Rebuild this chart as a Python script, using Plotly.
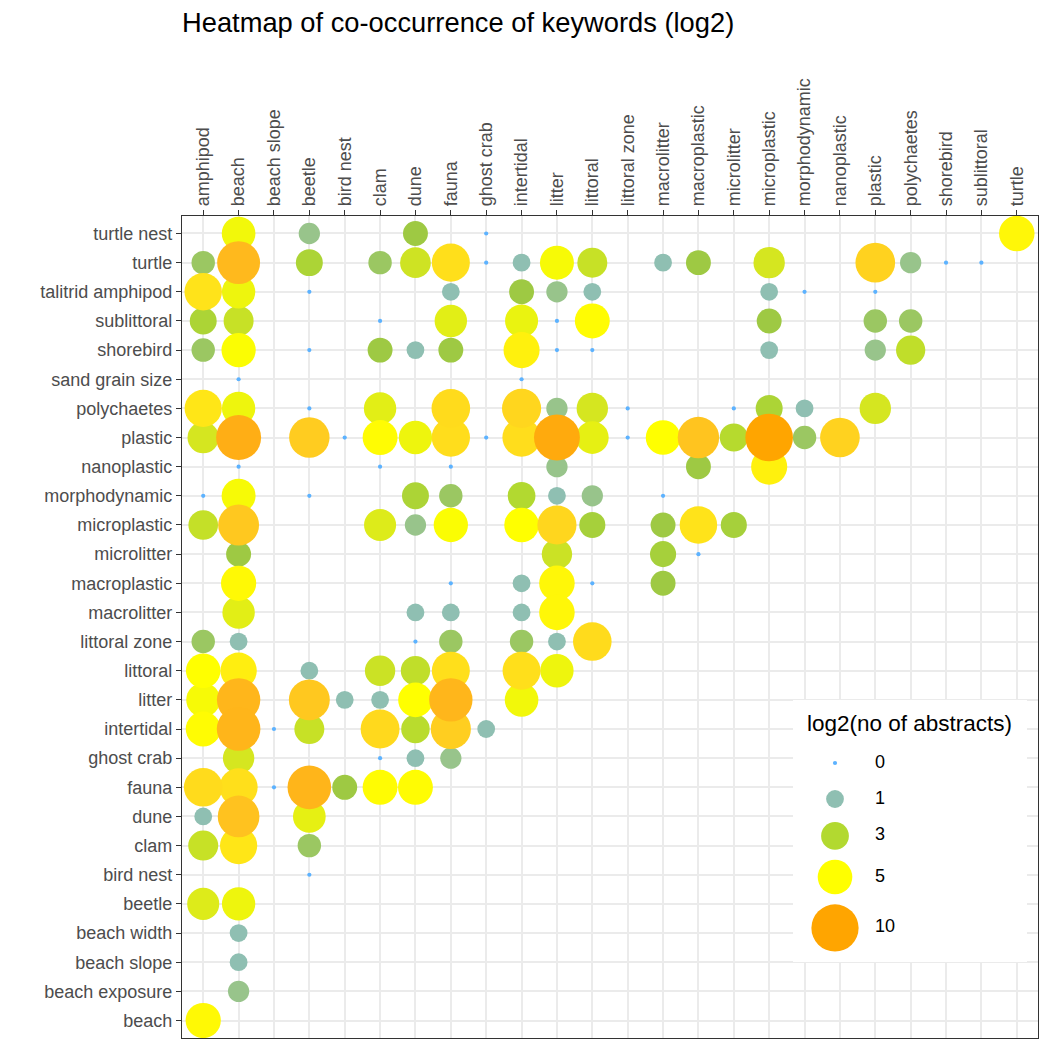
import numpy as np
import plotly.graph_objects as go

# ---------------- data ----------------
x_keywords = ["amphipod", "beach", "beach slope", "beetle", "bird nest", "clam", "dune",
              "fauna", "ghost crab", "intertidal", "litter", "littoral", "littoral zone",
              "macrolitter", "macroplastic", "microlitter", "microplastic", "morphodynamic",
              "nanoplastic", "plastic", "polychaetes", "shorebird", "sublittoral", "turtle"]

y_keywords = ["beach", "beach exposure", "beach slope", "beach width", "beetle", "bird nest",
              "clam", "dune", "fauna", "ghost crab", "intertidal", "litter", "littoral",
              "littoral zone", "macrolitter", "macroplastic", "microlitter", "microplastic",
              "morphodynamic", "nanoplastic", "plastic", "polychaetes", "sand grain size",
              "shorebird", "sublittoral", "talitrid amphipod", "turtle", "turtle nest"]

pair_row = (
    ["turtle nest"] * 5
    + ["turtle"] * 17
    + ["talitrid amphipod"] * 10
    + ["sublittoral"] * 10
    + ["shorebird"] * 12
    + ["sand grain size"] * 2
    + ["polychaetes"] * 13
    + ["plastic"] * 18
    + ["nanoplastic"] * 6
    + ["morphodynamic"] * 9
    + ["microplastic"] * 11
    + ["microlitter"] * 4
    + ["macroplastic"] * 6
    + ["macrolitter"] * 5
    + ["littoral zone"] * 7
    + ["littoral"] * 8
    + ["litter"] * 8
    + ["intertidal"] * 8
    + ["ghost crab"] * 4
    + ["fauna"] * 7
    + ["dune"] * 3
    + ["clam"] * 3
    + ["bird nest"] * 1
    + ["beetle"] * 2
    + ["beach width"] * 1
    + ["beach slope"] * 1
    + ["beach exposure"] * 1
    + ["beach"] * 1
)

pair_col = [
    # turtle nest
    "beach", "beetle", "dune", "ghost crab", "turtle",
    # turtle
    "amphipod", "beach", "beetle", "clam", "dune", "fauna", "ghost crab", "intertidal",
    "litter", "littoral", "macrolitter", "macroplastic", "microplastic", "plastic",
    "polychaetes", "shorebird", "sublittoral",
    # talitrid amphipod
    "amphipod", "beach", "beetle", "fauna", "intertidal", "litter", "littoral",
    "microplastic", "morphodynamic", "plastic",
    # sublittoral
    "amphipod", "beach", "clam", "fauna", "intertidal", "litter", "littoral",
    "microplastic", "plastic", "polychaetes",
    # shorebird
    "amphipod", "beach", "beetle", "clam", "dune", "fauna", "intertidal", "litter",
    "littoral", "microplastic", "plastic", "polychaetes",
    # sand grain size
    "beach", "intertidal",
    # polychaetes
    "amphipod", "beach", "beetle", "clam", "fauna", "intertidal", "litter", "littoral",
    "littoral zone", "microlitter", "microplastic", "morphodynamic", "plastic",
    # plastic
    "amphipod", "beach", "beetle", "bird nest", "clam", "dune", "fauna", "ghost crab",
    "intertidal", "litter", "littoral", "littoral zone", "macrolitter", "macroplastic",
    "microlitter", "microplastic", "morphodynamic", "nanoplastic",
    # nanoplastic
    "beach", "clam", "fauna", "litter", "macroplastic", "microplastic",
    # morphodynamic
    "amphipod", "beach", "beetle", "dune", "fauna", "intertidal", "litter", "littoral",
    "macrolitter",
    # microplastic
    "amphipod", "beach", "clam", "dune", "fauna", "intertidal", "litter", "littoral",
    "macrolitter", "macroplastic", "microlitter",
    # microlitter
    "beach", "litter", "macrolitter", "macroplastic",
    # macroplastic
    "beach", "fauna", "intertidal", "litter", "littoral", "macrolitter",
    # macrolitter
    "beach", "dune", "fauna", "intertidal", "litter",
    # littoral zone
    "amphipod", "beach", "dune", "fauna", "intertidal", "litter", "littoral",
    # littoral
    "amphipod", "beach", "beetle", "clam", "dune", "fauna", "intertidal", "litter",
    # litter
    "amphipod", "beach", "beetle", "bird nest", "clam", "dune", "fauna", "intertidal",
    # intertidal
    "amphipod", "beach", "beach slope", "beetle", "clam", "dune", "fauna", "ghost crab",
    # ghost crab
    "beach", "clam", "dune", "fauna",
    # fauna
    "amphipod", "beach", "beach slope", "beetle", "bird nest", "clam", "dune",
    # dune
    "amphipod", "beach", "beetle",
    # clam
    "amphipod", "beach", "beetle",
    # bird nest
    "beetle",
    # beetle
    "amphipod", "beach",
    # beach width / beach slope / beach exposure / beach
    "beach", "beach", "beach", "amphipod",
]

log2_abstracts = [
    # turtle nest
    4.7, 1.58, 2.32, 0, 5.3,
    # turtle
    2, 8.1, 2.8, 2, 3.8, 6.2, 0, 1, 4.8, 3.6, 1, 2.32, 4.0, 6.8, 1.58, 0, 0,
    # talitrid amphipod
    6.0, 4.6, 0, 1, 2.32, 1.58, 1, 1, 0, 0,
    # sublittoral
    2.8, 3.6, 0, 4.3, 4.5, 0, 5.1, 2.32, 2, 2,
    # shorebird
    2, 4.9, 0, 2.32, 1, 2.32, 5.5, 0, 0, 1, 1.58, 3.4,
    # sand grain size
    0, 0,
    # polychaetes
    5.9, 4.6, 0, 4.3, 6.4, 6.6, 1.58, 4.0, 0, 0, 2.8, 1, 4.0,
    # plastic
    4.0, 9.0, 7.1, 0, 5.1, 4.6, 6.3, 0, 6.3, 9.4, 4.4, 0, 5.0, 7.5, 3.1, 10.2, 2, 6.8,
    # nanoplastic
    0, 0, 0, 1.58, 2.32, 5.5,
    # morphodynamic
    0, 4.8, 0, 2.8, 2, 3.0, 1, 1.58, 0,
    # microplastic
    3.5, 7.3, 4.2, 1.58, 4.9, 5.0, 6.6, 2.6, 2.32, 6.0, 2.6,
    # microlitter
    2.32, 3.7, 2.6, 0,
    # macroplastic
    5.2, 0, 1, 5.3, 0, 2.32,
    # macrolitter
    4.3, 1, 1, 1, 5.3,
    # littoral zone
    2, 1, 0, 2, 2, 1, 6.4,
    # littoral
    5.0, 5.6, 1, 3.7, 3.4, 6.2, 6.2, 4.6,
    # litter
    4.8, 8.3, 7.3, 1, 1, 5.0, 8.3, 4.7,
    # intertidal
    5.1, 8.4, 0, 3.6, 6.5, 3.2, 7.0, 1,
    # ghost crab
    4.0, 0, 1, 1.58,
    # fauna
    6.4, 6.2, 0, 8.4, 2.32, 5.1, 5.1,
    # dune
    1, 7.6, 4.4,
    # clam
    3.6, 5.9, 2,
    # bird nest
    0,
    # beetle
    4.2, 4.6,
    # beach width, beach slope, beach exposure, beach
    1, 1, 1.58, 5.2,
]

legend_values = [0, 1, 3, 5, 10]
legend_labels = ["0", "1", "3", "5", "10"]

title_text = "Heatmap of co-occurrence of keywords (log2)"
legend_title = "log2(no of abstracts)"

# ---------------- scales ----------------
CMIN, CMAX = 0, 10
colorscale = [
    [0.00, "#5CB2FF"],
    [0.10, "#8FBFB2"],
    [0.16, "#98C48A"],
    [0.23, "#9DC944"],
    [0.30, "#B2D930"],
    [0.40, "#D5E620"],
    [0.50, "#FFFF00"],
    [0.60, "#FFE31A"],
    [0.70, "#FFCE20"],
    [0.80, "#FFBA1E"],
    [0.90, "#FFAE15"],
    [1.00, "#FFA500"],
]


def size_of(v):
    return 4.2 + 13.6 * np.sqrt(np.asarray(v, dtype=float))


vals = np.array(log2_abstracts, dtype=float)
order = np.argsort(vals, kind="stable")
xs = [pair_col[i] for i in order]
ys = [pair_row[i] for i in order]
vs = vals[order]

FONT = "Liberation Sans, Arial, Helvetica, sans-serif"

fig = go.Figure()
fig.add_trace(go.Scatter(
    x=xs, y=ys, mode="markers",
    marker=dict(size=size_of(vs), color=vs, colorscale=colorscale, cmin=CMIN, cmax=CMAX,
                line=dict(width=0), opacity=1),
    showlegend=False, hoverinfo="x+y+text", text=[f"{v:.2f}" for v in vs],
    xaxis="x", yaxis="y",
))

# ---------------- legend (drawn in its own small subplot) ----------------
W, H = 1050, 1050
ML, MR, MT, MB = 182, 12, 216, 12
plot_w = W - ML - MR
plot_h = H - MT - MB
box_left, box_right, box_top, box_bottom = 793, 1027, 700, 962
box_w = box_right - box_left
box_h = box_bottom - box_top

leg_sizes = size_of(legend_values)
key_h = np.maximum(36.0, leg_sizes + 10)
centers = [63.0]
for i in range(1, len(legend_values)):
    centers.append(centers[-1] + (key_h[i - 1] + key_h[i]) / 2)

fig.add_trace(go.Scatter(
    x=[42] * len(legend_values), y=centers, mode="markers",
    marker=dict(size=leg_sizes, color=legend_values, colorscale=colorscale,
                cmin=CMIN, cmax=CMAX, line=dict(width=0), opacity=1),
    showlegend=False, hoverinfo="skip", xaxis="x2", yaxis="y2",
))
fig.add_trace(go.Scatter(
    x=[82] * len(legend_values), y=centers, mode="text", text=legend_labels,
    textposition="middle right", textfont=dict(size=18, color="black", family=FONT),
    showlegend=False, hoverinfo="skip", xaxis="x2", yaxis="y2",
))

axis_common = dict(
    type="category", showgrid=True, gridcolor="#EBEBEB", gridwidth=1.6,
    showline=True, linecolor="#333333", linewidth=1.3, mirror=True,
    ticks="outside", ticklen=5, tickwidth=1.2, tickcolor="#333333",
    tickfont=dict(size=18, color="#4D4D4D", family=FONT), zeroline=False,
)

fig.update_layout(
    width=W, height=H,
    margin=dict(l=ML, r=MR, t=MT, b=MB, pad=0),
    paper_bgcolor="white", plot_bgcolor="white",
    font=dict(family=FONT),
    title=dict(text=title_text, x=0, xref="paper", xanchor="left",
               y=1 - 13 / H, yref="container", yanchor="top",
               font=dict(size=27.3, color="black", family=FONT)),
    xaxis=dict(axis_common, categoryorder="array", categoryarray=x_keywords,
               side="top", tickangle=-90, range=[-0.6, len(x_keywords) - 0.4]),
    yaxis=dict(axis_common, categoryorder="array", categoryarray=y_keywords,
               range=[-0.6, len(y_keywords) - 0.4]),
    xaxis2=dict(domain=[(box_left - ML) / plot_w, (box_right - ML) / plot_w],
                range=[0, box_w], visible=False, anchor="y2", fixedrange=True),
    yaxis2=dict(domain=[(H - MB - box_bottom) / plot_h, (H - MB - box_top) / plot_h],
                range=[box_h, 0], visible=False, anchor="x2", fixedrange=True),
    annotations=[dict(text=legend_title, xref="x2", yref="y2", x=12, y=23,
                      xanchor="left", yanchor="middle", showarrow=False,
                      font=dict(size=22.5, color="black", family=FONT))],
    showlegend=False,
)

fig.write_html("out.html")
